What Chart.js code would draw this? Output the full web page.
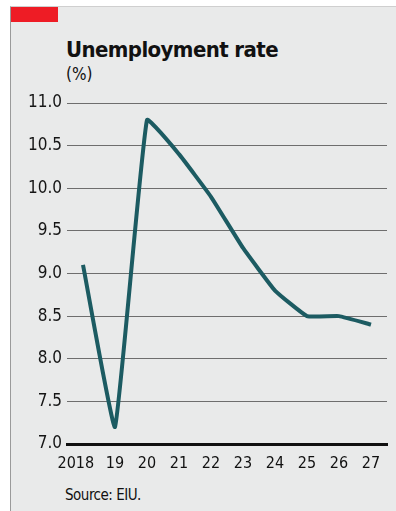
<!DOCTYPE html>
<html>
<head>
<meta charset="utf-8">
<script src="https://cdn.jsdelivr.net/npm/chart.js@4.4.1/dist/chart.umd.min.js"></script>
<style>
  html, body { margin: 0; padding: 0; }
  body { width: 396px; height: 511px; position: relative; overflow: hidden; background: #ffffff;
         font-family: "Liberation Sans Narrow", "DejaVu Sans Condensed", Roboto, sans-serif; color: #111; }
  #frame { position: absolute; left: 10px; top: 6px; right: 0; bottom: 0; background: #e9eaea;
           border-left: 1px solid #9a9a9a; border-top: 1px solid #cfcfcf; }
  #tag { position: absolute; left: 11px; top: 7px; width: 47px; height: 15px; background: #ee1c25; }
  #title { position: absolute; left: 66px; top: 37px; font-size: 22px; font-weight: bold; line-height: 26px;
           letter-spacing: -0.6px; white-space: nowrap; }
  #unit { position: absolute; left: 66px; top: 64px; font-size: 17px; line-height: 20px; white-space: nowrap; }
  #source { position: absolute; left: 65px; top: 485px; font-size: 15px; line-height: 20px; letter-spacing: -0.5px; white-space: nowrap; }
  canvas { position: absolute; left: 0; top: 0; }
</style>
</head>
<body>
<div id="frame"></div>
<div id="tag"></div>
<div id="title">Unemployment rate</div>
<div id="unit">(%)</div>
<div id="source">Source: EIU.</div>
<canvas id="chart" width="396" height="511"></canvas>
<script>
// Unemployment rate, %, 2018 to 2027
const years = ['2018', '19', '20', '21', '22', '23', '24', '25', '26', '27'];
const rates = [9.1, 7.2, 10.8, 10.4, 9.9, 9.3, 8.8, 8.5, 8.5, 8.4];
const yTicks = [7.0, 7.5, 8.0, 8.5, 9.0, 9.5, 10.0, 10.5, 11.0];

const FONT = '"Liberation Sans Narrow", "DejaVu Sans Condensed", Roboto, sans-serif';

new Chart(document.getElementById('chart'), {
  type: 'line',
  data: {
    labels: years,
    datasets: [{
      data: rates,
      borderColor: '#1c5b62',
      borderWidth: 4,
      pointRadius: 0,
      tension: 0.1,
      fill: false
    }]
  },
  options: {
    responsive: false,
    animation: false,
    devicePixelRatio: 1,
    layout: { padding: { top: 103, right: 9, bottom: 37, left: 0 } },
    plugins: { legend: { display: false }, tooltip: { enabled: false } },
    scales: {
      x: {
        type: 'category',
        offset: true,
        grid: { display: false },
        border: { display: true, color: '#111111', width: 3 },
        ticks: {
          color: '#111111',
          font: { family: FONT, size: 16 },
          padding: 2,
          maxRotation: 0,
          autoSkip: false,
          callback: (v, i) => i === 0 ? years[i] + '\u2002\u2002' : years[i]
        },
        afterFit: s => { s.height = 30; }
      },
      y: {
        min: yTicks[0],
        max: yTicks[yTicks.length - 1],
        afterBuildTicks: s => { s.ticks = yTicks.map(v => ({ value: v })); },
        grid: { color: '#6e6e6e', lineWidth: 1, drawTicks: false },
        border: { display: false },
        ticks: {
          color: '#151515',
          font: { family: FONT, size: 17 },
          padding: 5,
          callback: v => Number(v).toFixed(1)
        },
        afterFit: s => { s.width = 67; }
      }
    }
  }
});
</script>
</body>
</html>
